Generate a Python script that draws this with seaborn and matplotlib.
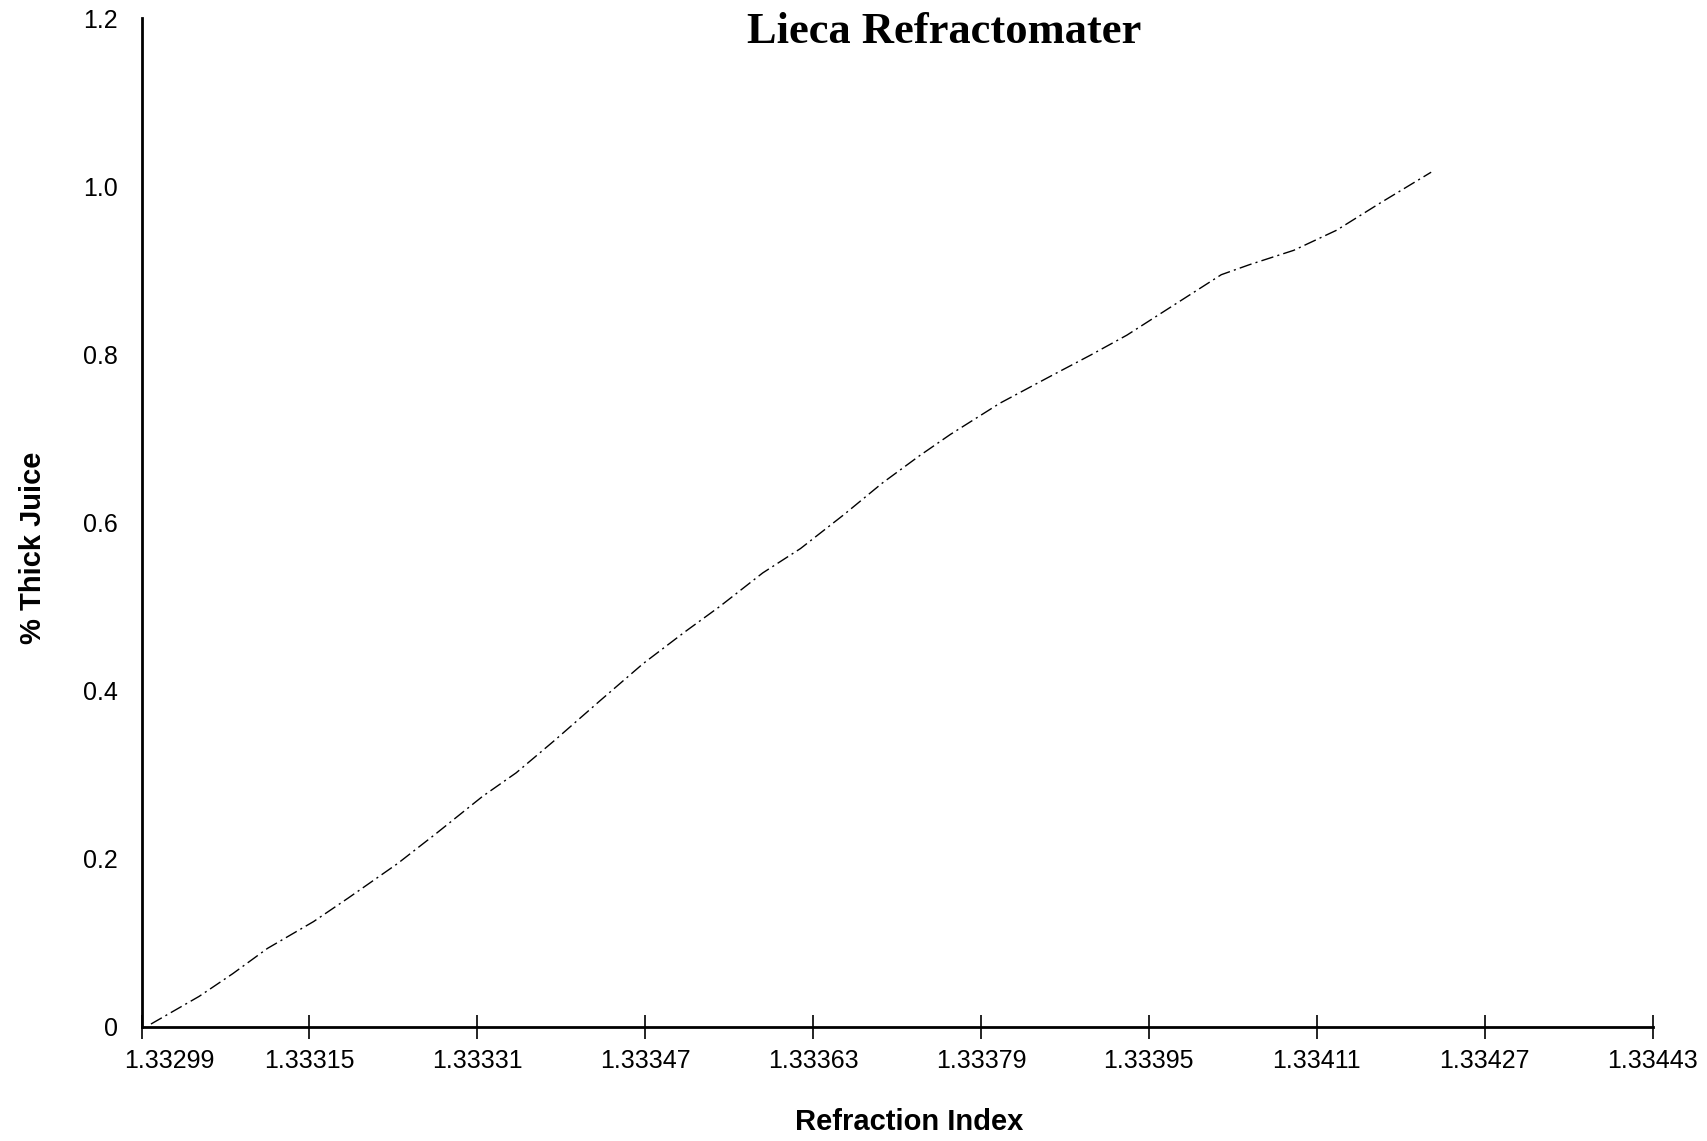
import matplotlib
matplotlib.use("Agg")
import matplotlib.pyplot as plt
import matplotlib.transforms as mtransforms
import seaborn as sns
import pandas as pd
import numpy as np

# values
refraction_index = [1.332999, 1.333045, 1.333077, 1.333110, 1.333154, 1.333187,
                    1.333234, 1.333271, 1.333315, 1.333347, 1.333384, 1.333428,
                    1.333468, 1.333508, 1.333541, 1.333582, 1.333618, 1.333659,
                    1.333696, 1.333732, 1.333761, 1.333808, 1.333856, 1.333894,
                    1.333929, 1.333964, 1.334019, 1.334046, 1.334088, 1.334129,
                    1.334170, 1.334219]
thick_juice = [0.003, 0.036, 0.063, 0.093, 0.125, 0.153,
               0.194, 0.230, 0.274, 0.302, 0.341, 0.389,
               0.432, 0.470, 0.500, 0.540, 0.569, 0.609,
               0.647, 0.680, 0.705, 0.742, 0.774, 0.799,
               0.823, 0.851, 0.895, 0.907, 0.924, 0.948,
               0.980, 1.017]

x_ticks = [1.33299, 1.33315, 1.33331, 1.33347, 1.33363, 1.33379,
           1.33395, 1.33411, 1.33427, 1.33443]
x_tick_labels = ['1.33299', '1.33315', '1.33331', '1.33347', '1.33363', '1.33379',
                 '1.33395', '1.33411', '1.33427', '1.33443']
y_ticks = [0, 0.2, 0.4, 0.6, 0.8, 1.0, 1.2]
y_tick_labels = ['0', '0.2', '0.4', '0.6', '0.8', '1.0', '1.2']

df = pd.DataFrame({'Refraction Index': refraction_index, '% Thick Juice': thick_juice})

sns.set_style('white')
plt.rcParams['font.family'] = ['Liberation Sans', 'DejaVu Sans']
plt.rcParams['text.color'] = 'black'
plt.rcParams['axes.labelcolor'] = 'black'
plt.rcParams['xtick.color'] = 'black'
plt.rcParams['ytick.color'] = 'black'

fig = plt.figure(figsize=(17.07, 11.41), dpi=100)
ax = fig.add_axes([0.0829, 0.1003, 0.8852, 0.8835])

sns.lineplot(data=df, x='Refraction Index', y='% Thick Juice', ax=ax,
             color='black', linewidth=1.0, estimator=None,
             linestyle=(0, (9, 3, 1.5, 3)))

ax.set_xlim(x_ticks[0], x_ticks[-1])
ax.set_ylim(0, 1.2)
ax.set_xticks(x_ticks)
ax.set_xticklabels(x_tick_labels, fontsize=18)
ax.set_yticks(y_ticks)
ax.set_yticklabels(y_tick_labels, fontsize=18)

ax.tick_params(axis='x', bottom=True, direction='inout', length=17, width=1.2,
               color='black', labelcolor='black', pad=8)
ax.tick_params(axis='y', left=False, length=0, pad=17, labelcolor='black')

# first x label sits a bit to the right of its tick
lbl = ax.get_xticklabels()[0]
lbl.set_transform(lbl.get_transform() + mtransforms.ScaledTranslation(0.28, 0, fig.dpi_scale_trans))

for side in ['top', 'right']:
    ax.spines[side].set_visible(False)
for side in ['left', 'bottom']:
    ax.spines[side].set_color('black')
    ax.spines[side].set_linewidth(2.0)

ax.set_xlabel('Refraction Index', fontsize=21, fontweight='bold', color='black')
ax.set_ylabel('% Thick Juice', fontsize=21, fontweight='bold', color='black')
ax.xaxis.label.set_va('center')
ax.yaxis.label.set_va('center')
ax.xaxis.set_label_coords(0.508, -0.0946)
ax.yaxis.set_label_coords(-0.0718, 0.475)

fig.text(0.553, 0.972, 'Lieca Refractomater', ha='center', va='center', color='black',
         fontsize=32, fontweight='bold', family=['Liberation Serif', 'DejaVu Serif'])

fig.savefig('out.png', dpi=100)
plt.close(fig)
